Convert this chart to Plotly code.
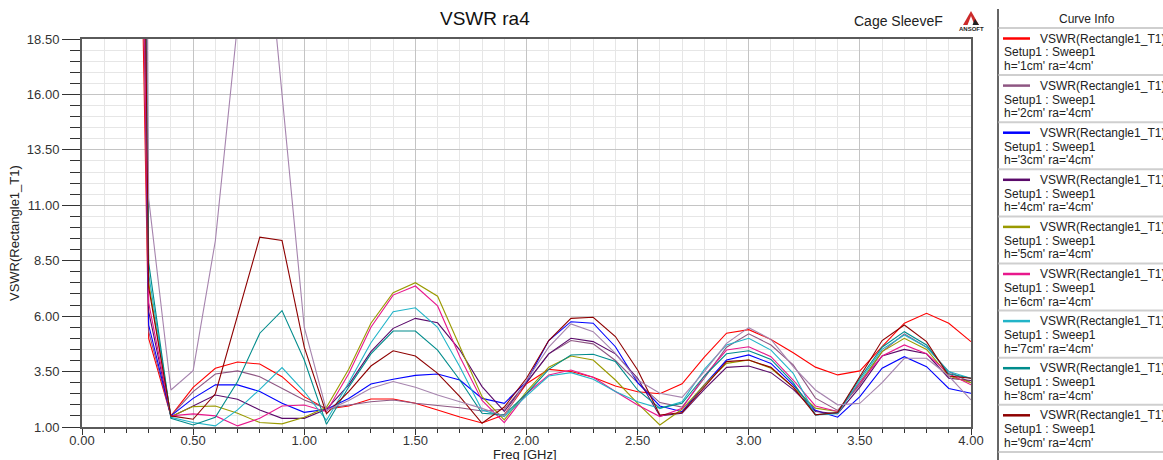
import plotly.graph_objects as go

# ---------------- data ----------------
freq_ghz = [0.2, 0.3, 0.4, 0.5, 0.6, 0.7, 0.8, 0.9, 1.0, 1.1, 1.2, 1.3, 1.4, 1.5, 1.6, 1.7, 1.8, 1.9,
            2.0, 2.1, 2.2, 2.3, 2.4, 2.5, 2.6, 2.7, 2.8, 2.9, 3.0, 3.1, 3.2, 3.3, 3.4, 3.5, 3.6, 3.7,
            3.8, 3.9, 4.0]

vswr_h1 = [60, 5.0, 1.5, 2.79, 3.65, 3.93, 3.84, 3.27, 2.37, 1.8, 1.95, 2.26, 2.26, 2.07, 1.77, 1.45, 1.18, 1.55,
           2.95, 3.6, 3.5, 3.24, 2.85, 2.59, 2.5, 2.95, 4.15, 5.23, 5.39, 4.95, 4.35, 3.7, 3.35, 3.53, 4.62, 5.68,
           6.13, 5.68, 4.85]
vswr_h2 = [70, 5.3, 1.5, 2.6, 3.39, 3.53, 3.27, 2.74, 2.22, 1.84, 2.0, 2.14, 2.22, 2.07, 1.97, 1.87, 1.72, 1.8,
           3.0, 4.3, 4.9, 4.75, 4.0, 3.0, 2.1, 1.9, 3.2, 4.6, 5.2, 4.7, 3.8, 2.3, 1.75, 2.9, 4.4, 5.2,
           4.6, 3.5, 3.0]
vswr_h3 = [90, 5.6, 1.5, 2.29, 2.9, 2.9, 2.6, 2.07, 1.66, 1.8, 2.29, 2.94, 3.15, 3.33, 3.39, 3.12, 2.29, 2.07,
           3.05, 4.9, 5.75, 5.68, 4.62, 3.0, 1.95, 1.69, 2.9, 4.02, 4.25, 3.87, 2.9, 1.75, 1.44, 2.37, 3.65, 4.17,
           3.72, 2.74, 2.52]
vswr_h4 = [80, 6.2, 1.45, 1.95, 2.44, 2.25, 1.77, 1.39, 1.39, 1.8, 2.9, 4.4, 5.45, 5.9, 5.7, 4.47, 2.82, 1.7,
           3.0, 4.3, 5.0, 4.85, 4.3, 3.2, 1.5, 1.62, 2.7, 3.69, 3.75, 3.45, 2.7, 1.7, 1.6, 2.8, 4.2, 4.5,
           4.3, 3.2, 3.1]
vswr_h5 = [100, 7.5, 1.47, 1.92, 1.95, 1.62, 1.2, 1.14, 1.44, 1.89, 3.6, 5.68, 7.06, 7.51, 6.9, 4.62, 2.37, 1.32,
           2.6, 3.7, 4.2, 4.02, 3.12, 2.07, 1.09, 1.8, 2.9, 3.87, 4.02, 3.65, 2.8, 1.85, 1.7, 3.0, 4.4, 5.0,
           4.5, 3.3, 3.0]
vswr_h6 = [75, 6.6, 1.5, 1.59, 1.5, 1.05, 1.39, 1.95, 1.99, 1.69, 3.4, 5.5, 6.95, 7.36, 6.46, 4.17, 2.2, 1.2,
           2.5, 3.35, 3.57, 3.24, 2.6, 1.99, 1.47, 1.84, 3.3, 4.47, 4.62, 4.17, 3.12, 1.95, 1.7, 3.0, 4.2, 4.7,
           4.3, 3.4, 2.9]
vswr_h7 = [110, 7.9, 1.44, 1.2, 1.05, 1.77, 2.7, 3.68, 2.6, 1.3, 3.0, 4.8, 6.2, 6.38, 5.5, 3.72, 1.77, 1.47,
           2.4, 3.3, 3.45, 3.15, 2.6, 2.14, 1.84, 2.14, 3.6, 4.7, 5.0, 4.47, 3.42, 1.55, 1.6, 3.1, 4.5, 5.15,
           4.6, 3.5, 3.2]
vswr_h8 = [120, 8.4, 1.39, 1.09, 1.44, 3.05, 5.23, 6.25, 4.02, 1.12, 2.8, 4.3, 5.33, 5.33, 4.47, 3.12, 1.62, 1.55,
           2.5, 3.6, 4.25, 4.28, 3.95, 2.67, 1.85, 2.07, 3.3, 4.3, 4.44, 4.05, 3.0, 1.55, 1.65, 3.2, 4.6, 5.3,
           4.7, 3.4, 3.2]
vswr_h9 = [95, 7.3, 1.5, 1.35, 2.5, 5.98, 9.56, 9.41, 4.6, 1.6, 2.6, 3.75, 4.44, 4.2, 3.42, 2.37, 1.17, 1.9,
           3.2, 4.9, 5.9, 5.95, 5.08, 3.57, 1.54, 1.65, 2.8, 3.95, 4.02, 3.69, 2.8, 1.55, 1.65, 3.3, 4.9, 5.6,
           4.85, 3.3, 3.2]
vswr_h10 = [140, 11.3, 2.67, 3.54, 9.4, 19.2, 26.5, 16.0, 5.5, 1.75, 2.2, 2.75, 3.05, 2.79, 2.44, 2.14, 1.84, 1.5,
            3.1, 4.6, 5.65, 5.3, 4.32, 3.12, 2.52, 2.34, 3.5, 4.77, 5.48, 4.95, 3.72, 2.67, 2.0, 2.07, 3.0, 4.1,
            4.1, 3.3, 2.22]

heights = ["1cm", "2cm", "3cm", "4cm", "5cm", "6cm", "7cm", "8cm", "9cm", "10cm"]
series = [vswr_h1, vswr_h2, vswr_h3, vswr_h4, vswr_h5, vswr_h6, vswr_h7, vswr_h8, vswr_h9, vswr_h10]
colors = ["#FF0000", "#8E5682", "#0000FF", "#5A0A6A", "#9A9A00", "#E8188C", "#22B4C8", "#008C8C",
          "#8E0000", "#A684AE"]

y_ticks = [1.0, 3.5, 6.0, 8.5, 11.0, 13.5, 16.0, 18.5]
x_ticks = [0.0, 0.5, 1.0, 1.5, 2.0, 2.5, 3.0, 3.5, 4.0]

# ---------------- geometry helpers (pixel -> paper) ----------------
W, H = 1163, 460
L, R, T, B = 82, 971, 39, 427


def px(x):
    return (x - L) / (R - L)


def py(y):
    return (B - y) / (B - T)


FONT = "Liberation Sans, Arial, sans-serif"

fig = go.Figure()
for h, vals, c in zip(heights, series, colors):
    fig.add_trace(go.Scatter(x=freq_ghz, y=vals, mode="lines", name="h='%s' ra='4cm'" % h,
                             line=dict(color=c, width=1.1), showlegend=False))

annotations = []
shapes = []

# title texts
annotations.append(dict(text="VSWR ra4", x=px(485), y=py(19), xref="paper", yref="paper",
                        showarrow=False, font=dict(family=FONT, size=19, color="#111111"),
                        xanchor="center", yanchor="middle"))
annotations.append(dict(text="Cage SleeveF", x=px(852), y=py(21), xref="paper", yref="paper",
                        showarrow=False, font=dict(family=FONT, size=14, color="#222222"),
                        xanchor="left", yanchor="middle"))
# ANSOFT logo
shapes.append(dict(type="path", xref="paper", yref="paper",
                   path="M %f,%f L %f,%f L %f,%f Z" % (px(971), py(11), px(963), py(25), px(979), py(25)),
                   fillcolor="#cc2a2a", line=dict(width=0)))
shapes.append(dict(type="path", xref="paper", yref="paper",
                   path="M %f,%f L %f,%f L %f,%f Z" % (px(971), py(16), px(967.5), py(25), px(974.5), py(25)),
                   fillcolor="#ffffff", line=dict(width=0)))
shapes.append(dict(type="path", xref="paper", yref="paper",
                   path="M %f,%f L %f,%f L %f,%f Z" % (px(975), py(19), px(972.5), py(25), px(979), py(25)),
                   fillcolor="#222222", line=dict(width=0)))
annotations.append(dict(text="<b>ANSOFT</b>", x=px(971), y=py(28.5), xref="paper", yref="paper",
                        showarrow=False, font=dict(family=FONT, size=6, color="#222222"),
                        xanchor="center", yanchor="middle"))

# axis titles
annotations.append(dict(text="VSWR(Rectangle1_T1)", x=px(14), y=py(233), xref="paper", yref="paper",
                        showarrow=False, textangle=-90, font=dict(family=FONT, size=13, color="#222222"),
                        xanchor="center", yanchor="middle"))
annotations.append(dict(text="Freq [GHz]", x=px(525), y=py(454), xref="paper", yref="paper",
                        showarrow=False, font=dict(family=FONT, size=13, color="#222222"),
                        xanchor="center", yanchor="middle"))

# legend panel ("Curve Info")
shapes.append(dict(type="line", xref="paper", yref="paper", x0=px(998), x1=px(998), y0=py(9), y1=py(460),
                   line=dict(color="#333333", width=1.5)))
annotations.append(dict(text="Curve Info", x=px(1087), y=py(19), xref="paper", yref="paper",
                        showarrow=False, font=dict(family=FONT, size=12, color="#222222"),
                        xanchor="center", yanchor="middle"))
pitch = 47.1
for k in range(10):
    ys = 28 + pitch * k
    shapes.append(dict(type="line", xref="paper", yref="paper", x0=px(998.5), x1=px(1163), y0=py(ys), y1=py(ys),
                       line=dict(color="#cfcfcf", width=2)))
for i, (h, c) in enumerate(zip(heights[:9], colors[:9])):
    y0 = 38.5 + pitch * i
    shapes.append(dict(type="line", xref="paper", yref="paper", x0=px(1003), x1=px(1030), y0=py(y0), y1=py(y0),
                       line=dict(color=c, width=2.5)))
    annotations.append(dict(text="VSWR(Rectangle1_T1)", x=px(1038), y=py(y0), xref="paper", yref="paper",
                            showarrow=False, font=dict(family=FONT, size=12, color="#222222"),
                            xanchor="left", yanchor="middle"))
    annotations.append(dict(text="Setup1 : Sweep1", x=px(1002), y=py(y0 + 14), xref="paper", yref="paper",
                            showarrow=False, font=dict(family=FONT, size=12, color="#222222"),
                            xanchor="left", yanchor="middle"))
    annotations.append(dict(text="h='%s' ra='4cm'" % h, x=px(1002), y=py(y0 + 27.5), xref="paper",
                            yref="paper", showarrow=False, font=dict(family=FONT, size=12, color="#222222"),
                            xanchor="left", yanchor="middle"))

fig.update_layout(
    width=W, height=H, autosize=False,
    margin=dict(l=L, r=W - R, t=T, b=H - B, pad=0),
    paper_bgcolor="white", plot_bgcolor="white",
    font=dict(family=FONT, size=13, color="#222222"),
    annotations=annotations, shapes=shapes,
    showlegend=False,
)
fig.update_xaxes(range=[0, 4], tickvals=x_ticks, tickformat=".2f", ticks="outside", ticklen=6,
                 tickcolor="#333333", tickwidth=1, showgrid=True, gridcolor="#c4c4c4", gridwidth=1,
                 showline=True, linecolor="#5a5a5a", linewidth=2, mirror=True, zeroline=False,
                 tickfont=dict(family=FONT, size=13, color="#333333"), automargin=False,
                 ticklabelstandoff=-6,
                 minor=dict(dtick=0.1, tick0=0, showgrid=True, gridcolor="#e6e6e6", gridwidth=1,
                            ticks="outside", ticklen=4, tickcolor="#333333"))
fig.update_yaxes(range=[1, 18.5], tickvals=y_ticks, tickformat=".2f", ticks="outside", ticklen=18,
                 tickcolor="#333333", tickwidth=1, showgrid=True, gridcolor="#c4c4c4", gridwidth=1,
                 showline=True, linecolor="#5a5a5a", linewidth=2, mirror=True, zeroline=False,
                 tickfont=dict(family=FONT, size=13, color="#333333"), automargin=False,
                 minor=dict(dtick=0.5, tick0=1, showgrid=True, gridcolor="#e6e6e6", gridwidth=1,
                            ticks="outside", ticklen=10, tickcolor="#333333"))

# remove the browser's default 8px page margin so the figure fills the window exactly
fig.write_html("out.html", config={"displayModeBar": False},
               post_script="document.body.style.margin='0';document.body.style.overflow='hidden';")
